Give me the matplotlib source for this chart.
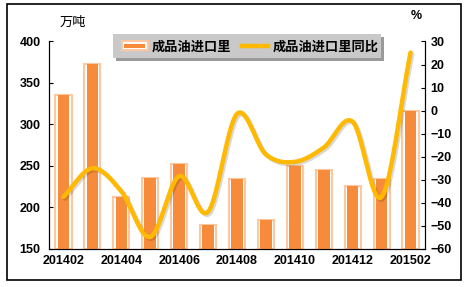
import numpy as np
import matplotlib
matplotlib.use("Agg")
import matplotlib.pyplot as plt
import matplotlib.patheffects as pe
from matplotlib.patches import Rectangle
from matplotlib.lines import Line2D
from matplotlib.legend_handler import HandlerBase

plt.rcParams['font.family'] = ['Liberation Sans', 'Noto Sans CJK SC', 'DejaVu Sans']

months = ['201402', '201403', '201404', '201405', '201406', '201407', '201408',
          '201409', '201410', '201411', '201412', '201501', '201502']
imports = [336, 373, 213, 235, 252, 179, 234, 185, 250, 245, 226, 234, 316]
yoy = [-37.4, -25, -35, -54.8, -28.4, -43.9, -1.4, -19, -22.2, -16, -4.8, -37.4, 25.2]

orange = '#F68B3C'
peach = '#FBC8A2'
gold = '#FFB900'


def catmull_rom(x, y, n=20):
    # smooth curve through the points, like Excel's "smoothed line"
    x = np.asarray(x, float)
    y = np.asarray(y, float)
    px = np.concatenate([[2 * x[0] - x[1]], x, [2 * x[-1] - x[-2]]])
    py = np.concatenate([[2 * y[0] - y[1]], y, [2 * y[-1] - y[-2]]])
    xs, ys = [], []
    t = np.linspace(0, 1, n, endpoint=False)
    for i in range(1, len(px) - 2):
        for p, out in ((px, xs), (py, ys)):
            p0, p1, p2, p3 = p[i - 1], p[i], p[i + 1], p[i + 2]
            out.extend(0.5 * (2 * p1 + (-p0 + p2) * t
                              + (2 * p0 - 5 * p1 + 4 * p2 - p3) * t ** 2
                              + (-p0 + 3 * p1 - 3 * p2 + p3) * t ** 3))
    xs.append(x[-1])
    ys.append(y[-1])
    return np.array(xs), np.array(ys)


class BarHandler(HandlerBase):
    # outlined bar swatch: peach border, white gap, orange core
    def create_artists(self, legend, orig, xd, yd, w, h, fontsize, trans):
        cy = yd + h / 2
        outer = Rectangle((xd, cy - 3.2), w, 6.4, facecolor='white',
                          edgecolor=peach, linewidth=1.5, transform=trans)
        inner = Rectangle((xd + 2, cy - 1.4), w - 4, 2.8, facecolor=orange,
                          edgecolor='none', transform=trans)
        return [outer, inner]


fig = plt.figure(figsize=(4.68, 2.87), dpi=100)
fig.patches.append(Rectangle((7 / 468, 1 - 280 / 287), 454 / 468, 276 / 287,
                             transform=fig.transFigure, fill=False,
                             edgecolor='black', linewidth=1.2))

# legend box with drop shadow
fig.patches.append(Rectangle((116 / 468, 1 - 61 / 287), 268 / 468, 24 / 287,
                             transform=fig.transFigure, facecolor='#9A9A9A',
                             edgecolor='none', zorder=5))
fig.patches.append(Rectangle((113 / 468, 1 - 58 / 287), 268 / 468, 24 / 287,
                             transform=fig.transFigure, facecolor='#C9C9C9',
                             edgecolor='none', zorder=6))

ax = fig.add_axes([49 / 468, 1 - 249 / 287, 376 / 468, 207.5 / 287])
ax2 = ax.twinx()

x = np.arange(len(months))
ax.bar(x, [v - 150 for v in imports], bottom=150, width=0.56,
       facecolor='white', edgecolor=peach, linewidth=1.5, zorder=2)
ax.bar(x, imports, width=0.4, color=orange, zorder=3)

sx, sy = catmull_rom(x, yoy)
ax2.plot(sx, sy, color=gold, linewidth=3.2, solid_capstyle='round',
         path_effects=[pe.SimpleLineShadow(offset=(1.2, -1.2), alpha=0.15),
                       pe.Normal()])

ax.set_xlim(-0.5, len(months) - 0.5)
ax.set_ylim(150, 400)
ax.set_yticks(range(150, 401, 50))
ax2.set_ylim(-60, 30)
ax2.set_yticks(range(-60, 31, 10))
ax.set_xticks(x[::2])
ax.set_xticklabels(months[::2])

for a in (ax, ax2):
    a.spines['top'].set_visible(False)
    a.tick_params(direction='in', length=3, width=0.8, labelsize=9)
    for lab in a.get_yticklabels() + a.get_xticklabels():
        lab.set_fontweight('bold')
ax.tick_params(axis='x', length=0, pad=4)
ax.tick_params(axis='y', pad=6)
ax2.tick_params(axis='y', pad=4)

fig.text(60 / 468, 1 - 22 / 287, '万吨', fontsize=9.5, va='center',
         family=['Noto Sans CJK SC'])
fig.text(411 / 468, 1 - 16 / 287, '%', fontsize=9, va='center',
         fontweight='bold')

bar_handle = Rectangle((0, 0), 1, 1)
line_handle = Line2D([0], [0], color=gold, linewidth=3.2)
leg = fig.legend([bar_handle, line_handle], ['成品油进口里', '成品油进口里同比'],
                 loc='center', bbox_to_anchor=(250 / 468, 1 - 46.5 / 287), ncol=2,
                 frameon=False, handlelength=2.0, handletextpad=0.3,
                 columnspacing=0.8, borderpad=0.2,
                 handler_map={Rectangle: BarHandler()},
                 prop={'family': ['Noto Sans CJK SC'], 'weight': 'bold', 'size': 9.5})
leg.set_zorder(10)

fig.savefig('out.png', dpi=100)
